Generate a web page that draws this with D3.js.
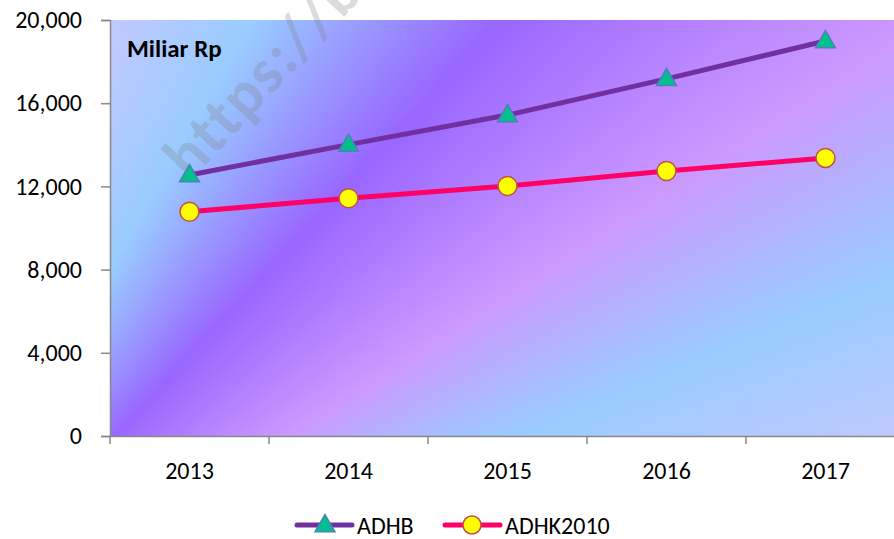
<!DOCTYPE html>
<html>
<head>
<meta charset="utf-8">
<script src="https://cdn.jsdelivr.net/npm/d3@7"></script>
<style>
    body { margin: 0; background: #fff; }
    .chart { width: 894px; height: 539px; }
</style>
</head>
<body>
<div class="chart"></div>
<script>
let years = ["2013", "2014", "2015", "2016", "2017"]
let adhb = [12550, 14010, 15430, 17170, 18990]
let adhk2010 = [10780, 11430, 12020, 12740, 13370]
let yTickValues = [0, 4000, 8000, 12000, 16000, 20000]
let seriesNames = ["ADHB", "ADHK2010"]

let width = 894, height = 539
let plotLeft = 110, plotRight = 905, plotTop = 20, plotBottom = 436
let font = "Calibri, Carlito, Lato, sans-serif"

let svg = d3.select(".chart")
    .append("svg")
    .attr("width", width)
    .attr("height", height)

//背景渐变 (扇形渐变, 中心在图外左下方)
let bgStops = [
    ["#ccc8ff", 18],
    ["#99ccff", 30],
    ["#9966ff", 43],
    ["#cc99ff", 57],
    ["#99ccff", 67],
    ["#c8c8ff", 77]
]
svg.append("foreignObject")
    .attr("x", plotLeft)
    .attr("y", plotTop)
    .attr("width", plotRight - plotLeft)
    .attr("height", plotBottom - plotTop)
    .append("xhtml:div")
    .style("width", "100%")
    .style("height", "100%")
    .style("background", `conic-gradient(from 0deg at -260px 700px, ${bgStops.map((s) => `${s[0]} ${s[1]}deg`).join(", ")})`)

let xScale = d3.scaleBand()
    .domain(years)
    .range([plotLeft, plotRight])
    .padding(0)
let yScale = d3.scaleLinear()
    .domain([0, 20000])
    .range([plotBottom, plotTop])

//水印
svg.append("text")
    .attr("transform", "translate(190,182) rotate(-47)")
    .attr("font-family", font)
    .attr("font-weight", "bold")
    .attr("font-size", 63)
    .attr("letter-spacing", 2)
    .attr("fill", "rgba(128,128,128,0.28)")
    .text("https://bps.go.id")

//y轴
let yAxis = svg.append("g")
    .attr("transform", `translate(${plotLeft},0)`)
    .call(d3.axisLeft(yScale)
        .tickValues(yTickValues)
        .tickSize(9)
        .tickPadding(19)
        .tickFormat(d3.format(",")))
yAxis.select(".domain").attr("stroke", "#898989").attr("stroke-width", 1.5)
yAxis.selectAll(".tick line").attr("stroke", "#898989").attr("stroke-width", 1.5)
yAxis.selectAll(".tick text")
    .attr("font-family", font)
    .attr("font-size", 24)
    .attr("fill", "#000")

//x轴
let xAxis = svg.append("g")
    .attr("transform", `translate(0,${plotBottom})`)
    .call(d3.axisBottom(xScale).tickSize(0).tickPadding(26))
xAxis.select(".domain").attr("stroke", "#898989").attr("stroke-width", 1.5)
xAxis.selectAll(".tick text")
    .attr("font-family", font)
    .attr("font-size", 24)
    .attr("fill", "#000")
svg.append("g")
    .selectAll("path")
    .data(years.concat(["end"]))
    .enter()
    .append("path")
    .attr("stroke", "#898989")
    .attr("stroke-width", 1.5)
    .attr("d", (d, i) => `M${plotLeft + i * xScale.bandwidth()},${plotBottom} V${plotBottom + 8}`)

svg.append("text")
    .attr("x", 127)
    .attr("y", 57)
    .attr("font-family", font)
    .attr("font-weight", "bold")
    .attr("font-size", 25)
    .attr("fill", "#000")
    .text("Miliar Rp")

let cx = (d, i) => xScale(years[i]) + xScale.bandwidth() / 2
let line = d3.line()
    .x(cx)
    .y((d) => yScale(d))

let triangle = d3.symbol().type(d3.symbolTriangle).size(170)

function drawLine(values, color) {
    svg.append("path")
        .datum(values)
        .attr("fill", "none")
        .attr("stroke", color)
        .attr("stroke-width", 5)
        .attr("stroke-linejoin", "round")
        .attr("d", line)
}

drawLine(adhb, "#7030a0")
drawLine(adhk2010, "#ff0066")

svg.append("g")
    .selectAll("path")
    .data(adhb)
    .enter()
    .append("path")
    .attr("d", triangle)
    .attr("transform", (d, i) => `translate(${cx(d, i)},${yScale(d) + 1})`)
    .attr("fill", "#00c08c")
    .attr("stroke", "#4f7fbd")
    .attr("stroke-width", 1.5)

svg.append("g")
    .selectAll("circle")
    .data(adhk2010)
    .enter()
    .append("circle")
    .attr("cx", cx)
    .attr("cy", (d) => yScale(d))
    .attr("r", 9.5)
    .attr("fill", "#ffff00")
    .attr("stroke", "#c0504d")
    .attr("stroke-width", 1.5)

//图例
let legendY = 525
let legend = svg.append("g")
let legendItems = [
    { name: seriesNames[0], x: 297, color: "#7030a0" },
    { name: seriesNames[1], x: 445, color: "#ff0066" }
]
legendItems.forEach((item, index) => {
    legend.append("path")
        .attr("stroke", item.color)
        .attr("stroke-width", 5)
        .attr("stroke-linecap", "round")
        .attr("d", `M${item.x},${legendY} H${item.x + 55}`)
    if (index === 0) {
        legend.append("path")
            .attr("d", triangle)
            .attr("transform", `translate(${item.x + 28},${legendY + 1})`)
            .attr("fill", "#00c08c")
            .attr("stroke", "#4f7fbd")
            .attr("stroke-width", 1.5)
    } else {
        legend.append("circle")
            .attr("cx", item.x + 27)
            .attr("cy", legendY)
            .attr("r", 9)
            .attr("fill", "#ffff00")
            .attr("stroke", "#c0504d")
            .attr("stroke-width", 1.5)
    }
    legend.append("text")
        .attr("x", item.x + 60)
        .attr("y", legendY + 9)
        .attr("font-family", font)
        .attr("font-size", 24)
        .attr("fill", "#000")
        .text(item.name)
})
</script>
</body>
</html>
